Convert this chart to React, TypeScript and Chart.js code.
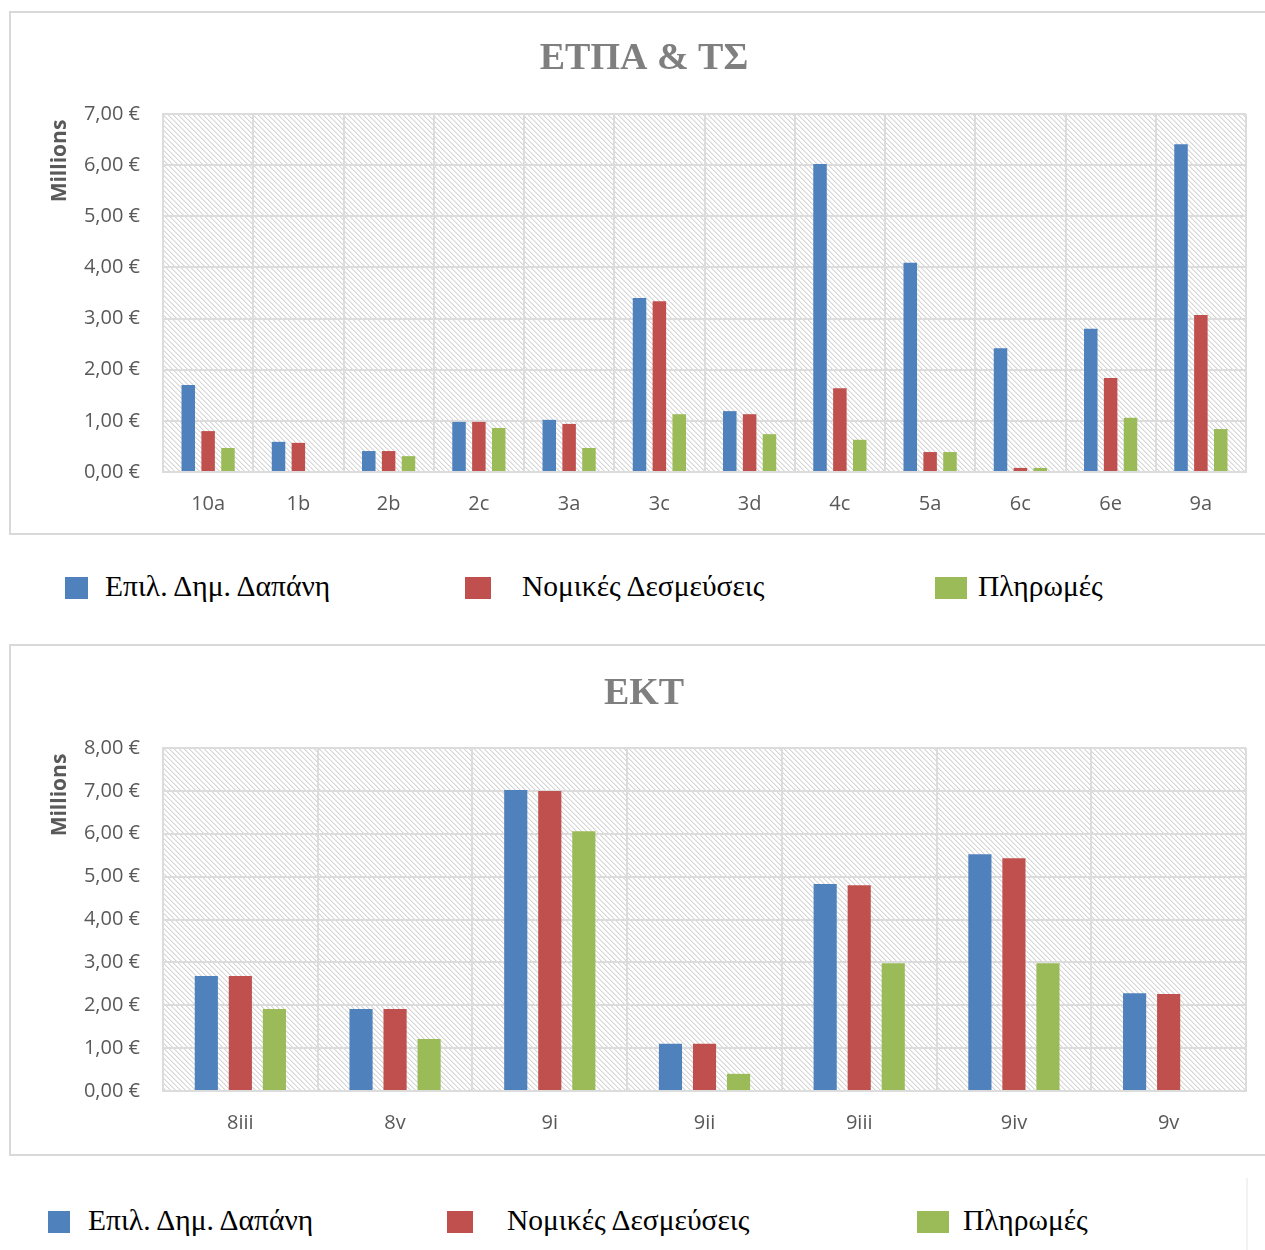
import React, { useEffect, useRef } from "react";
import { Chart, registerables } from "chart.js";

Chart.register(...registerables);

// ---------- DATA ----------
const seriesNames = ["Επιλ. Δημ. Δαπάνη", "Νομικές Δεσμεύσεις", "Πληρωμές"];
const seriesColors = ["#4F81BD", "#C0504D", "#9BBB59"];

const etpaTitle = "ΕΤΠΑ & ΤΣ";
const etpaCategories = ["10a", "1b", "2b", "2c", "3a", "3c", "3d", "4c", "5a", "6c", "6e", "9a"];
const etpaPublicExpenditure = [1.7, 0.59, 0.41, 0.98, 1.02, 3.4, 1.19, 6.02, 4.09, 2.42, 2.8, 6.41];
const etpaLegalCommitments = [0.8, 0.57, 0.41, 0.98, 0.94, 3.34, 1.13, 1.64, 0.39, 0.08, 1.84, 3.07];
const etpaPayments = [0.47, 0, 0.31, 0.86, 0.47, 1.13, 0.74, 0.63, 0.39, 0.08, 1.06, 0.84];
const etpaMax = 7;

const ektTitle = "ΕΚΤ";
const ektCategories = ["8iii", "8v", "9i", "9ii", "9iii", "9iv", "9v"];
const ektPublicExpenditure = [2.68, 1.91, 7.02, 1.1, 4.83, 5.52, 2.28];
const ektLegalCommitments = [2.68, 1.91, 7.0, 1.1, 4.8, 5.43, 2.26];
const ektPayments = [1.91, 1.21, 6.06, 0.4, 2.98, 2.98, 0];
const ektMax = 8;

const axisUnitLabel = "Millions";

// ---------- helpers ----------
function makeHatch(ctx: CanvasRenderingContext2D) {
  const c = document.createElement("canvas");
  const p = 5;
  c.width = p;
  c.height = p;
  const g = c.getContext("2d")!;
  g.fillStyle = "#ffffff";
  g.fillRect(0, 0, p, p);
  for (let i = 0; i < p; i++) {
    g.fillStyle = "#d6d6d6";
    g.fillRect(i, i, 1, 1);
    g.fillStyle = "#ebebeb";
    g.fillRect((i + 1) % p, i, 1, 1);
  }
  return ctx.createPattern(c, "repeat");
}

const hatchPlugin = {
  id: "hatchBg",
  beforeDraw(chart: any) {
    const { ctx, chartArea } = chart;
    if (!chartArea) return;
    const pat = makeHatch(ctx);
    ctx.save();
    ctx.fillStyle = pat as any;
    ctx.fillRect(chartArea.left, chartArea.top, chartArea.right - chartArea.left, chartArea.bottom - chartArea.top);
    ctx.restore();
  },
};

// "Millions" display-unit label, placed near the top of the value axis (as in Excel)
const unitLabelPlugin = {
  id: "unitLabel",
  afterDraw(chart: any) {
    const { ctx, chartArea } = chart;
    ctx.save();
    ctx.translate(49, chartArea.top + 47);
    ctx.rotate(-Math.PI / 2);
    ctx.font = "bold 21px 'Open Sans', sans-serif";
    ctx.fillStyle = "#595959";
    ctx.textAlign = "center";
    ctx.textBaseline = "middle";
    ctx.fillText(axisUnitLabel, 0, 0);
    ctx.restore();
  },
};

type ChartProps = {
  title: string;
  categories: string[];
  series: number[][];
  max: number;
  width: number;
  height: number;
  titlePadTop: number;
  titlePadBottom: number;
  xAxisHeight: number;
};

function BarChart(props: ChartProps) {
  const ref = useRef<HTMLCanvasElement | null>(null);
  useEffect(() => {
    if (!ref.current) return;
    const gridColor = "#dcdcdc";
    const tickFont = { family: "'Open Sans', sans-serif", size: 20 };
    const chart = new Chart(ref.current, {
      type: "bar",
      data: {
        labels: props.categories,
        datasets: props.series.map((s, i) => ({
          label: seriesNames[i],
          data: s,
          backgroundColor: seriesColors[i],
          borderWidth: 0,
          categoryPercentage: 0.66,
          barPercentage: 0.68,
        })),
      },
      options: {
        responsive: false,
        animation: false,
        layout: { padding: { left: 31, right: 19, top: 0, bottom: 0 } },
        plugins: {
          legend: { display: false },
          tooltip: { enabled: false },
          title: {
            display: true,
            text: props.title,
            color: "#7f7f7f",
            font: { family: "'Liberation Serif', serif", size: 38, weight: "bold" },
            padding: { top: props.titlePadTop, bottom: props.titlePadBottom },
          },
        },
        scales: {
          x: {
            offset: true,
            grid: { color: gridColor, lineWidth: 2, offset: true, drawTicks: false },
            border: { color: gridColor, width: 2 },
            ticks: { color: "#595959", font: tickFont, padding: 20, maxRotation: 0 },
            afterFit: (scale: any) => {
              scale.height = props.xAxisHeight;
            },
          },
          y: {
            min: 0,
            max: props.max,
            grid: { color: gridColor, lineWidth: 2, drawTicks: false },
            border: { color: gridColor, width: 2 },
            ticks: {
              stepSize: 1,
              color: "#595959",
              font: tickFont,
              padding: 23,
              callback: (v: any) => Number(v).toFixed(2).replace(".", ",") + " €",
            },
            afterFit: (scale: any) => {
              scale.width = 121;
            },
          },
        },
      } as any,
      plugins: [hatchPlugin, unitLabelPlugin],
    });
    return () => chart.destroy();
  }, []);
  return (
    <canvas
      ref={ref}
      width={props.width}
      height={props.height}
      style={{ display: "block", width: props.width, height: props.height }}
    />
  );
}

type LegendProps = {
  top: number;
  squares: { x: number; w: number }[];
  textX: number[];
  squareTop: number;
  squareH: number;
};

function Legend(p: LegendProps) {
  return (
    <>
      {seriesNames.map((name, i) => (
        <React.Fragment key={name}>
          <div
            style={{
              position: "absolute",
              left: p.squares[i].x,
              top: p.squareTop,
              width: p.squares[i].w,
              height: p.squareH,
              background: seriesColors[i],
            }}
          />
          <div
            style={{
              position: "absolute",
              left: p.textX[i],
              top: p.top,
              fontFamily: "'Liberation Serif', 'Times New Roman', serif",
              fontSize: 29.5,
              lineHeight: "29.5px",
              color: "#000",
              whiteSpace: "nowrap",
            }}
          >
            {name}
          </div>
        </React.Fragment>
      ))}
    </>
  );
}

export default function App() {
  return (
    <div
      style={{
        position: "absolute",
        left: 0,
        top: 0,
        width: 1265,
        height: 1250,
        overflow: "hidden",
        background: "#fff",
      }}
    >
      <div
        style={{
          position: "absolute",
          left: 9,
          top: 11,
          width: 1300,
          height: 520,
          border: "2px solid #d9d9d9",
        }}
      >
        <BarChart
          title={etpaTitle}
          categories={etpaCategories}
          series={[etpaPublicExpenditure, etpaLegalCommitments, etpaPayments]}
          max={etpaMax}
          width={1254}
          height={520}
          titlePadTop={23}
          titlePadBottom={32.4}
          xAxisHeight={61}
        />
      </div>
      <Legend
        top={572}
        squareTop={577}
        squareH={22}
        squares={[
          { x: 65, w: 23 },
          { x: 465, w: 26 },
          { x: 935, w: 32 },
        ]}
        textX={[105, 522, 978]}
      />
      <div
        style={{
          position: "absolute",
          left: 9,
          top: 644,
          width: 1300,
          height: 508,
          border: "2px solid #d9d9d9",
        }}
      >
        <BarChart
          title={ektTitle}
          categories={ektCategories}
          series={[ektPublicExpenditure, ektLegalCommitments, ektPayments]}
          max={ektMax}
          width={1254}
          height={508}
          titlePadTop={25}
          titlePadBottom={31.4}
          xAxisHeight={63}
        />
      </div>
      <Legend
        top={1206}
        squareTop={1211}
        squareH={22}
        squares={[
          { x: 48, w: 22 },
          { x: 447, w: 26 },
          { x: 917, w: 32 },
        ]}
        textX={[88, 507, 963]}
      />
      <div
        style={{
          position: "absolute",
          left: 1246,
          top: 1178,
          width: 2,
          height: 72,
          background: "#f2f2f2",
        }}
      />
    </div>
  );
}
